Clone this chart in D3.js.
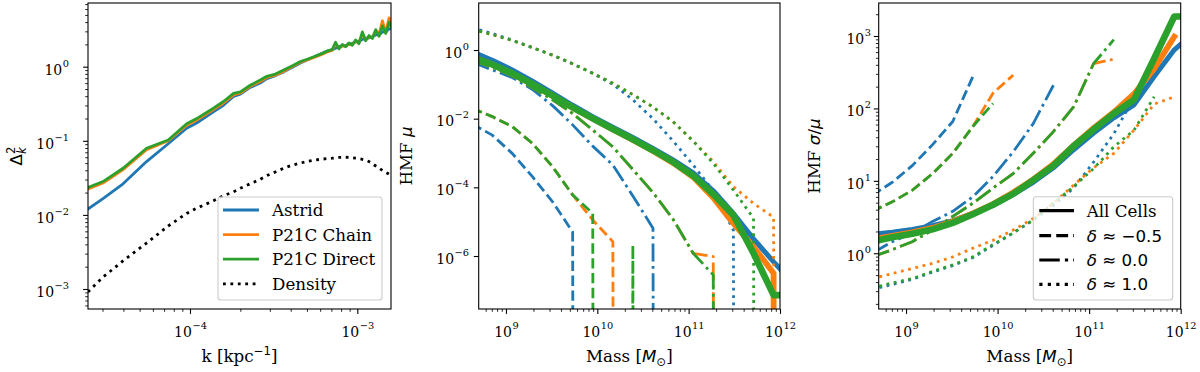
<!DOCTYPE html>
<html>
<head>
<meta charset="utf-8">
<script src="https://cdnjs.cloudflare.com/ajax/libs/d3/7.8.5/d3.min.js"></script>
<style>
  body { margin: 0; background: #fff; }
  svg text { font-family: "DejaVu Serif", serif; }
  svg .math { font-family: "DejaVu Sans", sans-serif; font-style: italic; }
</style>
</head>
<body>
<script>
// ---------- data (y values are log10 of what the log axis shows) ----------

// left panel: power spectra
var kBins = [2.455e-5, 3.02e-5, 3.98e-5, 5.50e-5, 7.41e-5, 9.55e-5, 1.096e-4, 1.38e-4, 1.585e-4, 1.82e-4,
  2.00e-4, 2.29e-4, 2.63e-4, 2.88e-4, 3.24e-4, 3.63e-4, 4.07e-4, 4.57e-4, 5.01e-4, 5.50e-4,
  6.03e-4, 6.61e-4, 7.08e-4, 7.41e-4, 7.76e-4, 8.13e-4, 8.51e-4, 8.91e-4, 9.33e-4, 9.77e-4,
  1.023e-3, 1.072e-3, 1.122e-3, 1.175e-3, 1.230e-3, 1.288e-3, 1.349e-3, 1.413e-3, 1.479e-3, 1.549e-3, 1.622e-3];
var pkAstrid = [-1.92, -1.78, -1.58, -1.28, -1.04, -0.83, -0.76, -0.61, -0.52, -0.40,
  -0.37, -0.28, -0.22, -0.16, -0.12, -0.07, -0.01, 0.05, 0.09, 0.13,
  0.17, 0.21, 0.23, 0.25, 0.27, 0.28, 0.28, 0.31, 0.31, 0.34,
  0.34, 0.37, 0.38, 0.39, 0.40, 0.43, 0.43, 0.47, 0.47, 0.51, 0.52];
var pkChain = [-1.65, -1.57, -1.39, -1.12, -1.00, -0.79, -0.72, -0.58, -0.49, -0.38,
  -0.355, -0.265, -0.20, -0.145, -0.115, -0.06, 0.00, 0.06, 0.09, 0.125,
  0.16, 0.20, 0.22, 0.31, 0.25, 0.28, 0.28, 0.30, 0.30, 0.34,
  0.33, 0.44, 0.37, 0.40, 0.40, 0.48, 0.44, 0.62, 0.46, 0.66, 0.52];
var pkDirect = [-1.63, -1.55, -1.37, -1.10, -0.99, -0.77, -0.70, -0.56, -0.47, -0.36,
  -0.34, -0.25, -0.18, -0.13, -0.10, -0.045, 0.01, 0.07, 0.10, 0.135,
  0.17, 0.21, 0.23, 0.33, 0.24, 0.30, 0.27, 0.32, 0.29, 0.36,
  0.31, 0.47, 0.35, 0.42, 0.38, 0.50, 0.41, 0.55, 0.45, 0.60, 0.50];
var pkDensity = [-3.04, -2.84, -2.62, -2.38, -2.15, -1.98, -1.91, -1.81, -1.74, -1.69,
  -1.64, -1.58, -1.52, -1.47, -1.42, -1.37, -1.33, -1.30, -1.28, -1.26,
  -1.25, -1.24, -1.235, -1.23, -1.225, -1.222, -1.222, -1.224, -1.228, -1.235,
  -1.24, -1.25, -1.26, -1.28, -1.31, -1.34, -1.37, -1.40, -1.425, -1.45, -1.475];

// middle + right panels: halo mass bins
var massBins = [4.27e8, 7.08e8, 1.17e9, 1.95e9, 3.24e9, 5.37e9, 8.91e9, 1.48e10, 2.45e10,
  4.07e10, 6.76e10, 1.12e11, 1.86e11, 3.09e11, 5.13e11, 8.51e11, 1.41e12];

// HMF mean (null = no haloes in bin)
var muAllAstrid = [-0.05, -0.30, -0.58, -0.91, -1.26, -1.61, -1.94, -2.25, -2.55, -2.87, -3.20, -3.58, -4.10, -4.76, -5.50, -6.17, -6.80];
var muAllChain  = [-0.20, -0.42, -0.69, -1.00, -1.34, -1.68, -2.00, -2.31, -2.62, -2.94, -3.29, -3.70, -4.30, -5.05, -5.73, -6.50, null];
var muAllDirect = [-0.22, -0.42, -0.68, -0.99, -1.33, -1.67, -1.99, -2.30, -2.60, -2.92, -3.26, -3.66, -4.20, -4.81, -5.92, -7.14, -7.14];
var muLowAstrid = [-2.15, -2.48, -3.01, -3.69, -4.42, -5.30, null, null, null, null, null, null, null, null, null, null, null];
var muLowChain  = [-1.70, -1.94, -2.23, -2.72, -3.40, -4.22, -4.95, -5.58, null, null, null, null, null, null, null, null, null];
var muLowDirect = [-1.70, -1.94, -2.23, -2.72, -3.40, -4.22, -4.76, null, -5.68, null, null, null, null, null, null, null, null];
var muMidAstrid = [-0.35, -0.58, -0.80, -1.15, -1.62, -2.18, -2.80, -3.35, -4.25, -5.19, null, null, null, null, null, null, null];
var muMidChain  = [-0.30, -0.50, -0.75, -1.10, -1.45, -1.85, -2.33, -2.82, -3.48, -4.15, -4.93, -5.92, -6.02, null, null, null, null];
var muMidDirect = [-0.30, -0.50, -0.75, -1.10, -1.45, -1.85, -2.33, -2.82, -3.48, -4.15, -4.93, -5.92, -6.55, null, null, null, null];
var muHighAstrid = [0.65, 0.48, 0.29, 0.07, -0.15, -0.40, -0.68, -1.00, -1.45, -2.00, -2.65, -3.35, -4.10, -5.25, null, null, null];
var muHighChain  = [0.60, 0.45, 0.28, 0.07, -0.15, -0.40, -0.68, -0.97, -1.30, -1.66, -2.09, -2.65, -3.25, -3.98, -4.47, -4.87, null];
var muHighDirect = [0.60, 0.45, 0.28, 0.07, -0.15, -0.40, -0.68, -0.97, -1.30, -1.66, -2.09, -2.65, -3.30, -4.08, -4.90, null, null];

// HMF sigma / mean
var sigAllAstrid = [0.26, 0.29, 0.33, 0.38, 0.45, 0.55, 0.66, 0.81, 0.98, 1.18, 1.43, 1.66, 1.87, 2.05, 2.44, 2.81, 3.05];
var sigAllChain  = [0.19, 0.24, 0.29, 0.35, 0.44, 0.55, 0.68, 0.84, 1.02, 1.23, 1.49, 1.73, 1.95, 2.20, 2.55, 2.99, null];
var sigAllDirect = [0.16, 0.22, 0.27, 0.33, 0.42, 0.54, 0.67, 0.82, 1.01, 1.21, 1.48, 1.71, 1.93, 2.12, 2.69, 3.27, 3.27];
var sigLowAstrid = [0.80, 0.98, 1.21, 1.50, 1.82, 2.44, null, null, null, null, null, null, null, null, null, null, null];
var sigLowChain  = [0.58, 0.71, 0.87, 1.10, 1.38, 1.75, 2.21, 2.46, null, null, null, null, null, null, null, null, null];
var sigLowDirect = [0.58, 0.71, 0.87, 1.10, 1.38, 1.75, 2.07, null, null, null, null, null, null, null, null, null, null];
var sigMidAstrid = [0.00, 0.16, 0.28, 0.44, 0.58, 0.78, 1.06, 1.40, 1.79, 2.32, null, null, null, null, null, null, null];
var sigMidChain  = [-0.05, 0.05, 0.16, 0.32, 0.51, 0.69, 0.90, 1.10, 1.38, 1.68, 2.02, 2.62, 2.68, null, null, null, null];
var sigMidDirect = [-0.05, 0.05, 0.16, 0.32, 0.51, 0.69, 0.90, 1.10, 1.38, 1.68, 2.02, 2.62, 2.95, null, null, null, null];
var sigHighAstrid = [-0.50, -0.43, -0.36, -0.26, -0.17, -0.06, 0.11, 0.28, 0.46, 0.66, 0.90, 1.26, 1.65, 2.15, null, null, null];
var sigHighChain  = [-0.35, -0.28, -0.21, -0.14, -0.05, 0.07, 0.18, 0.32, 0.48, 0.69, 0.94, 1.18, 1.38, 1.70, 2.06, 2.16, null];
var sigHighDirect = [-0.48, -0.41, -0.35, -0.25, -0.16, -0.05, 0.12, 0.28, 0.46, 0.69, 0.92, 1.17, 1.47, 1.70, 2.16, null, null];

// labels and ticks
var simNames = ["Astrid", "P21C Chain", "P21C Direct"];
var densityName = "Density";
var deltaNames = ["All Cells", "\u2248 \u22120.5", "\u2248 0.0", "\u2248 1.0"];
var kTicks = [1e-4, 1e-3];
var pkTicks = [1e-3, 1e-2, 1e-1, 1];
var massTicks = [1e9, 1e10, 1e11, 1e12];
var muTicks = [1e-6, 1e-4, 1e-2, 1];
var sigTicks = [1, 10, 100, 1000];

// ---------- drawing ----------
var colors = ["#1f77b4", "#ff7f0e", "#2ca02c"];
var svg = d3.select("body").append("svg").attr("width", 1200).attr("height", 372);

// matplotlib-like dash patterns, scaled by line width
function dashes(style, lw) {
  if (style == "dashed") return [3.7 * lw, 1.6 * lw].join(",");
  if (style == "dashdot") return [6.4 * lw, 1.6 * lw, 1 * lw, 1.6 * lw].join(",");
  if (style == "dotted") return [1 * lw, 1.65 * lw].join(",");
  return null;
}

function logMinors(scale) {
  var dom = scale.domain(), out = [];
  for (var e = Math.floor(Math.log10(dom[0])); e <= Math.ceil(Math.log10(dom[1])); e++)
    for (var s = 2; s <= 9; s++) {
      var v = s * Math.pow(10, e);
      if (v >= dom[0] && v <= dom[1]) out.push(v);
    }
  return out;
}

function pow10Label(sel, v) {
  var e = Math.round(Math.log10(v));
  sel.text(null);
  sel.append("tspan").text("10");
  sel.append("tspan").attr("dx", 0.5).attr("dy", -8).attr("font-size", 9.8).text(e < 0 ? "\u2212" + (-e) : String(e));
}

function makePanel(id, x, y) {
  var g = svg.append("g");
  var xr = x.range(), yr = y.range();
  g.append("clipPath").attr("id", id).append("rect")
    .attr("x", xr[0]).attr("y", yr[1]).attr("width", xr[1] - xr[0]).attr("height", yr[0] - yr[1]);
  var plot = g.append("g").attr("clip-path", "url(#" + id + ")");
  return { g: g, plot: plot, x: x, y: y };
}

// zeroFloor: zero counts drop straight off the bottom (log of 0), otherwise a gap
function series(p, xs, logs, color, lw, style, zeroFloor) {
  var pts = xs.map(function(m, i) { return { m: m, v: logs[i] }; });
  var line = d3.line()
    .defined(function(d) { return zeroFloor || d.v !== null; })
    .x(function(d) { return p.x(d.m); })
    .y(function(d) { return p.y(d.v === null ? 1e-300 : Math.pow(10, d.v)); });
  p.plot.append("path").datum(pts).attr("d", line)
    .attr("fill", "none").attr("stroke", color).attr("stroke-width", lw)
    .attr("stroke-linejoin", "round")
    .attr("stroke-linecap", style == "solid" ? "square" : "butt")
    .attr("stroke-dasharray", dashes(style, lw));
}

function axes(p, xMajor, yMajor, yMinor, yLabelX) {
  var g = p.g, x = p.x, y = p.y;
  var xr = x.range(), yr = y.range();
  function style(a, w) {
    a.select(".domain").remove();
    a.attr("font-family", null).attr("font-size", 14);
    a.selectAll("line").attr("stroke-width", w);
  }
  var bMin = g.append("g").attr("transform", "translate(0," + yr[0] + ")")
    .call(d3.axisBottom(x).tickValues(logMinors(x)).tickSize(2.8).tickFormat(""));
  style(bMin, 0.85);
  var bMaj = g.append("g").attr("transform", "translate(0," + yr[0] + ")")
    .call(d3.axisBottom(x).tickValues(xMajor).tickSize(4.9));
  style(bMaj, 1.1);
  bMaj.selectAll("text").attr("y", 28).attr("dy", null)
    .each(function(d) { pow10Label(d3.select(this), d); });

  if (yMinor) {
    var lMin = g.append("g").attr("transform", "translate(" + xr[0] + ",0)")
      .call(d3.axisLeft(y).tickValues(logMinors(y)).tickSize(2.8).tickFormat(""));
    style(lMin, 0.85);
  }
  var lMaj = g.append("g").attr("transform", "translate(" + xr[0] + ",0)")
    .call(d3.axisLeft(y).tickValues(yMajor).tickSize(4.9));
  style(lMaj, 1.1);
  lMaj.selectAll("text").attr("x", yLabelX - xr[0]).attr("dy", 7.3)
    .each(function(d) { pow10Label(d3.select(this), d); });

  g.append("rect").attr("x", xr[0]).attr("y", yr[1])
    .attr("width", xr[1] - xr[0]).attr("height", yr[0] - yr[1])
    .attr("fill", "none").attr("stroke", "#000").attr("stroke-width", 1.1);
}

function legendBox(g, x0, y0, w, h) {
  g.append("rect").attr("x", x0).attr("y", y0).attr("width", w).attr("height", h)
    .attr("rx", 3).attr("fill", "#fff").attr("fill-opacity", 0.8)
    .attr("stroke", "#cccccc").attr("stroke-width", 1.1);
}

// ---- left panel ----
var p1 = makePanel("c1",
  d3.scaleLog().domain([2.457e-5, 1.59e-3]).range([88, 391]),
  d3.scaleLog().domain([5.37e-4, 7.24]).range([309, 3]));
[pkAstrid, pkChain, pkDirect].forEach(function(s, i) {
  series(p1, kBins, s, colors[i], 2.8, "solid", false);
});
series(p1, kBins, pkDensity, "#000", 2.8, "dotted", false);
axes(p1, kTicks, pkTicks, true, 69);

legendBox(p1.g, 218, 197, 164, 103);
var leg1 = simNames.map(function(n, i) { return { name: n, color: colors[i], style: "solid" }; })
  .concat([{ name: densityName, color: "#000", style: "dotted" }]);
leg1.forEach(function(d, i) {
  var yy = 210 + i * 24.6;
  p1.g.append("line").attr("x1", 223).attr("x2", 259).attr("y1", yy).attr("y2", yy)
    .attr("stroke", d.color).attr("stroke-width", 2.8)
    .attr("stroke-dasharray", dashes(d.style, 2.8));
  p1.g.append("text").attr("x", 272).attr("y", yy + 6).attr("font-size", 16.7).text(d.name);
});

// ---- middle panel ----
var p2 = makePanel("c2",
  d3.scaleLog().domain([5.03e8, 1e12]).range([478.7, 780]),
  d3.scaleLog().domain([2.86e-8, 23.4]).range([309, 3]));
var widths = [5, 5.8, 6.6];
[[muAllAstrid, muLowAstrid, muMidAstrid, muHighAstrid],
 [muAllChain, muLowChain, muMidChain, muHighChain],
 [muAllDirect, muLowDirect, muMidDirect, muHighDirect]].forEach(function(set, i) {
  series(p2, massBins, set[0], colors[i], widths[i], "solid", true);
  series(p2, massBins, set[1], colors[i], 2.8, "dashed", true);
  series(p2, massBins, set[2], colors[i], 2.8, "dashdot", true);
  series(p2, massBins, set[3], colors[i], 2.8, "dotted", true);
});
axes(p2, massTicks, muTicks, false, 469);

// ---- right panel ----
var p3 = makePanel("c3",
  d3.scaleLog().domain([5.03e8, 1e12]).range([878.7, 1180.7]),
  d3.scaleLog().domain([0.17, 2856]).range([309, 3]));
[[sigAllAstrid, sigLowAstrid, sigMidAstrid, sigHighAstrid],
 [sigAllChain, sigLowChain, sigMidChain, sigHighChain],
 [sigAllDirect, sigLowDirect, sigMidDirect, sigHighDirect]].forEach(function(set, i) {
  series(p3, massBins, set[0], colors[i], widths[i], "solid", false);
  series(p3, massBins, set[1], colors[i], 2.8, "dashed", false);
  series(p3, massBins, set[2], colors[i], 2.8, "dashdot", false);
  series(p3, massBins, set[3], colors[i], 2.8, "dotted", false);
});
axes(p3, massTicks, sigTicks, true, 871);

legendBox(p3.g, 1033.3, 196.7, 139.4, 103.3);
["solid", "dashed", "dashdot", "dotted"].forEach(function(st, i) {
  var yy = [210.7, 235.7, 260, 284.3][i];
  p3.g.append("line").attr("x1", 1039.3).attr("x2", 1074).attr("y1", yy).attr("y2", yy)
    .attr("stroke", "#000").attr("stroke-width", 3.2)
    .attr("stroke-dasharray", dashes(st, 3.2));
  var t = p3.g.append("text").attr("x", 1086.7).attr("y", yy + 6).attr("font-size", 16.7);
  if (i == 0) t.text(deltaNames[0]);
  else {
    t.append("tspan").attr("class", "math").text("\u03b4");
    t.append("tspan").attr("font-family", "DejaVu Sans").text(" " + deltaNames[i]);
  }
});

// ---- axis labels ----
var lab = svg.append("g").attr("font-size", 16.7).attr("text-anchor", "middle");
var t1 = lab.append("text").attr("x", 239.5).attr("y", 362);
t1.append("tspan").text("k [kpc");
t1.append("tspan").attr("dy", -7).attr("font-size", 11.7).attr("font-family", "DejaVu Sans").text("\u22121");
t1.append("tspan").attr("dy", 7).text("]");

[629.3, 1029.7].forEach(function(cx) {
  var t = lab.append("text").attr("x", cx).attr("y", 362);
  t.append("tspan").text("Mass [");
  t.append("tspan").attr("class", "math").text("M");
  t.append("tspan").attr("dy", 4).attr("font-size", 11.7).attr("font-family", "DejaVu Sans").text("\u2299");
  t.append("tspan").attr("dy", -4).text("]");
});

var yl1 = lab.append("text").attr("transform", "translate(22,156) rotate(-90)");
yl1.append("tspan").attr("font-family", "DejaVu Sans").text("\u0394");
yl1.append("tspan").attr("dy", -7).attr("font-size", 11.7).attr("font-family", "DejaVu Sans").text("2");
yl1.append("tspan").attr("class", "math").attr("dx", -7.4).attr("dy", 11).attr("font-size", 11.7).text("k");

var yl2 = lab.append("text").attr("transform", "translate(412,156) rotate(-90)");
yl2.append("tspan").text("HMF ");
yl2.append("tspan").attr("class", "math").text("\u03bc");

var yl3 = lab.append("text").attr("transform", "translate(820,156) rotate(-90)");
yl3.append("tspan").text("HMF ");
yl3.append("tspan").attr("class", "math").text("\u03c3");
yl3.append("tspan").attr("font-family", "DejaVu Sans").text("/");
yl3.append("tspan").attr("class", "math").text("\u03bc");
</script>
</body>
</html>
